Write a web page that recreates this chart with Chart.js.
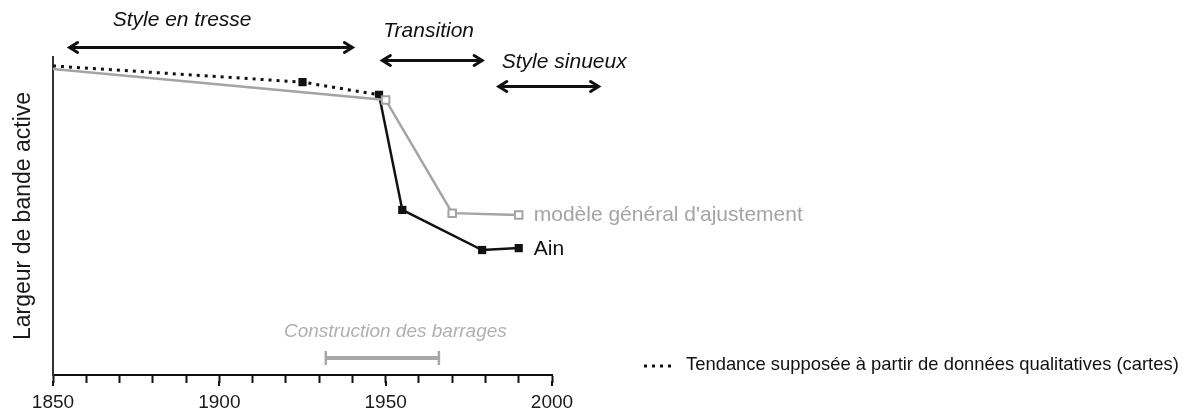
<!DOCTYPE html>
<html>
<head>
<meta charset="utf-8">
<script src="https://cdn.jsdelivr.net/npm/chart.js@4/dist/chart.umd.min.js"></script>
<style>
  html, body { margin: 0; padding: 0; background: #fff; }
  #wrap { width: 1185px; height: 412px; position: relative; }
</style>
</head>
<body>
<div id="wrap"><canvas id="c" width="1185" height="412"></canvas></div>
<script>
// Active channel width (relative units) through time
const trendYears = [1850, 1925, 1948];
const trendWidth = [97.2, 92.1, 88.1];
const modelYears = [1850, 1950, 1970, 1990];
const modelWidth = [96.2, 86.5, 50.9, 50.3];
const ainYears = [1948, 1955, 1979, 1990];
const ainWidth = [88.1, 51.9, 39.3, 39.9];

// Axis labelling
const xTickLabels = [1850, 1900, 1950, 2000];
const yTitle = 'Largeur de bande active';

// Channel style periods
const periodNames = ['Style en tresse', 'Transition', 'Style sinueux'];
const periodStart = [1855, 1949, 1984];
const periodEnd = [1940, 1979, 2014];

// Dam construction period
const damYears = [1932, 1966];
const damLabel = 'Construction des barrages';

// Series names and legend text
const modelName = "modèle général d'ajustement";
const ainName = 'Ain';
const trendLegend = 'Tendance supposée à partir de données qualitatives (cartes)';

const FONT = '"Liberation Sans", Arial, Helvetica, sans-serif';
const GREY = '#a4a4a4';
const INK = '#111111';

const toXY = (xs, ys) => xs.map((v, i) => ({ x: v, y: ys[i] }));

function drawArrow(ctx, x0, x1, y) {
  const h = 8, w = 5;
  ctx.beginPath();
  ctx.moveTo(x0 + 1, y); ctx.lineTo(x1 - 1, y);
  ctx.moveTo(x0 + h, y - w); ctx.lineTo(x0, y); ctx.lineTo(x0 + h, y + w);
  ctx.moveTo(x1 - h, y - w); ctx.lineTo(x1, y); ctx.lineTo(x1 - h, y + w);
  ctx.stroke();
}

const annotations = {
  id: 'annotations',
  afterDraw(chart) {
    const { ctx, scales: { x, y } } = chart;
    ctx.save();

    // style periods: double arrows with italic captions
    const arrowRows = [47.5, 60.5, 86.5];
    const captionRows = [20, 31, 62];
    const captionShift = [43, 1, 3];
    ctx.strokeStyle = INK;
    ctx.lineWidth = 3;
    ctx.lineCap = 'round';
    ctx.lineJoin = 'miter';
    ctx.fillStyle = INK;
    ctx.font = 'italic 21px ' + FONT;
    ctx.textAlign = 'left';
    ctx.textBaseline = 'middle';
    periodNames.forEach((name, i) => {
      const x0 = x.getPixelForValue(periodStart[i]);
      const x1 = x.getPixelForValue(periodEnd[i]);
      drawArrow(ctx, x0, x1, arrowRows[i]);
      ctx.fillText(name, x0 + captionShift[i], captionRows[i]);
    });

    // labelled decades get a slightly longer tick
    ctx.strokeStyle = INK;
    ctx.lineWidth = 2;
    ctx.lineCap = 'butt';
    ctx.beginPath();
    xTickLabels.forEach((v) => {
      const px = Math.round(x.getPixelForValue(v));
      ctx.moveTo(px, x.top + 6); ctx.lineTo(px, x.top + 11);
    });
    ctx.stroke();

    // series names next to their last point
    ctx.font = '21px ' + FONT;
    const mLast = modelYears.length - 1;
    ctx.fillStyle = GREY;
    ctx.fillText(modelName, x.getPixelForValue(modelYears[mLast]) + 15, y.getPixelForValue(modelWidth[mLast]));
    const aLast = ainYears.length - 1;
    ctx.fillStyle = INK;
    ctx.fillText(ainName, x.getPixelForValue(ainYears[aLast]) + 15, y.getPixelForValue(ainWidth[aLast]) + 1);

    // dam construction interval
    const d0 = x.getPixelForValue(damYears[0]);
    const d1 = x.getPixelForValue(damYears[1]);
    const dy = 358;
    ctx.strokeStyle = '#a8a8a8';
    ctx.lineCap = 'butt';
    ctx.lineWidth = 4;
    ctx.beginPath(); ctx.moveTo(d0, dy); ctx.lineTo(d1, dy); ctx.stroke();
    ctx.lineWidth = 2.5;
    ctx.beginPath();
    ctx.moveTo(d0, dy - 7); ctx.lineTo(d0, dy + 7);
    ctx.moveTo(d1, dy - 7); ctx.lineTo(d1, dy + 7);
    ctx.stroke();
    ctx.fillStyle = '#b0b0b0';
    ctx.font = 'italic 19px ' + FONT;
    ctx.textAlign = 'center';
    ctx.fillText(damLabel, (d0 + d1) / 2 + 13, 332);

    // legend for the qualitative trend
    ctx.strokeStyle = INK;
    ctx.lineWidth = 3;
    ctx.setLineDash([3, 5]);
    ctx.beginPath(); ctx.moveTo(644, 366); ctx.lineTo(676, 366); ctx.stroke();
    ctx.setLineDash([]);
    ctx.fillStyle = INK;
    ctx.font = '18.4px ' + FONT;
    ctx.textAlign = 'left';
    ctx.fillText(trendLegend, 686, 365);

    ctx.restore();
  }
};

new Chart(document.getElementById('c'), {
  type: 'line',
  data: {
    datasets: [
      {
        label: 'Tendance',
        data: toXY(trendYears, trendWidth),
        borderColor: INK,
        borderWidth: 3,
        borderDash: [3, 5],
        borderCapStyle: 'butt',
        pointStyle: 'rect',
        pointRadius: [0, 5.8, 0],
        pointBackgroundColor: INK,
        pointBorderColor: INK,
        pointBorderWidth: 0,
        tension: 0,
        order: 3
      },
      {
        label: ainName,
        data: toXY(ainYears, ainWidth),
        borderColor: INK,
        borderWidth: 2.5,
        pointStyle: 'rect',
        pointRadius: 5.8,
        pointBackgroundColor: INK,
        pointBorderColor: INK,
        pointBorderWidth: 0,
        tension: 0,
        order: 2
      },
      {
        label: modelName,
        data: toXY(modelYears, modelWidth),
        borderColor: GREY,
        borderWidth: 2.5,
        pointStyle: 'rect',
        pointRadius: [0, 5.3, 5.3, 5.3],
        pointBackgroundColor: '#ffffff',
        pointBorderColor: GREY,
        pointBorderWidth: 2,
        tension: 0,
        order: 1
      }
    ]
  },
  options: {
    responsive: false,
    devicePixelRatio: 1,
    animation: false,
    events: [],
    layout: { padding: { top: 57, right: 633, bottom: 0, left: 0 } },
    plugins: { legend: { display: false }, tooltip: { enabled: false } },
    scales: {
      x: {
        type: 'linear',
        min: 1850,
        max: 2000,
        afterFit: (s) => { s.height = 37; },
        border: { display: true, color: INK, width: 2 },
        grid: {
          display: true,
          drawOnChartArea: false,
          drawTicks: true,
          tickLength: 8,
          tickColor: INK,
          tickWidth: 2
        },
        ticks: {
          stepSize: 10,
          autoSkip: false,
          maxRotation: 0,
          padding: 8,
          color: '#1a1a1a',
          font: { family: FONT, size: 19 },
          callback: (v) => (xTickLabels.includes(v) ? String(v) : '')
        }
      },
      y: {
        min: 0,
        max: 100,
        afterFit: (s) => { s.width = 53; },
        border: { display: true, color: '#333333', width: 2 },
        grid: { display: false },
        ticks: { display: false },
        title: {
          display: true,
          text: yTitle,
          color: '#1a1a1a',
          font: { family: FONT, size: 23 },
          padding: { top: 10, bottom: 0 }
        }
      }
    }
  },
  plugins: [annotations]
});
</script>
</body>
</html>
